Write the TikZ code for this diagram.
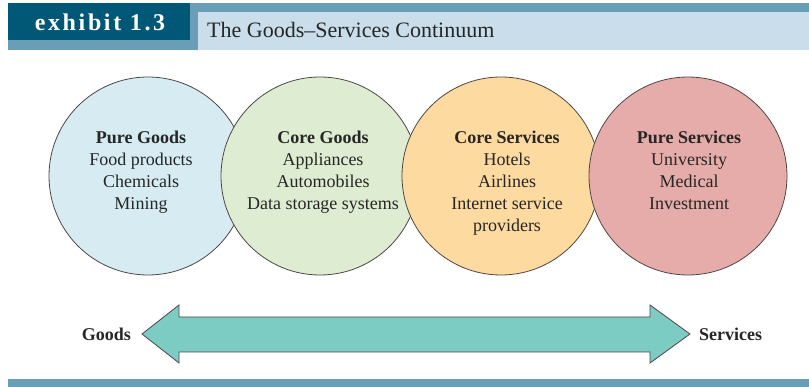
\documentclass[tikz,border=0pt]{standalone}
\usepackage{fontspec}
\setmainfont{Liberation Serif}
\newfontfamily\tagfont[LetterSpace=11]{Liberation Serif}
\usetikzlibrary{positioning}

\definecolor{bandblue}{RGB}{106,157,182}
\definecolor{tagblue}{RGB}{0,88,118}
\definecolor{titleblue}{RGB}{201,222,234}
\definecolor{goodsblue}{RGB}{214,236,242}
\definecolor{coregreen}{RGB}{222,236,210}
\definecolor{coreorange}{RGB}{253,218,160}
\definecolor{servicepink}{RGB}{230,172,170}
\definecolor{arrowteal}{RGB}{124,204,196}
\definecolor{rim}{RGB}{80,70,70}

\begin{document}
\begin{tikzpicture}[x=1pt,y=-1pt,
  disc/.style={circle,draw=rim,line width=0.8pt,minimum size=198pt,inner sep=0pt},
  list/.style={align=center,inner sep=0pt,anchor=north,text=black!85,font=\fontsize{18}{22}\selectfont},
  endlabel/.style={inner sep=0pt,text=black!85,font=\bfseries\fontsize{18}{22}\selectfont}]
  \useasboundingbox (0,0) rectangle (809,387);

  % heading bar
  \fill[bandblue] (8,3) rectangle (809,50);
  \fill[tagblue] (8,3) rectangle (190,40);
  \fill[titleblue] (198,12) rectangle (809,50);
  \node[text=white,font=\tagfont\bfseries\fontsize{24}{28}\selectfont] (tag) at (100,22) {exhibit 1.3};
  \node[anchor=base west,inner sep=0pt,text=black!85,font=\fontsize{22}{26}\selectfont] (title) at (207,38) {The Goods--Services Continuum};

  % the four circles, each one over the one before
  \node[disc,fill=goodsblue] (pure goods) at (148,176) {};
  \node[disc,fill=coregreen] (core goods) at (320,176) {};
  \node[disc,fill=coreorange] (core services) at (501,176) {};
  \node[disc,fill=servicepink] (pure services) at (688,176) {};

  \node[list] (pure goods list) at (141,131) {\textbf{Pure Goods}\\Food products\\Chemicals\\Mining};
  \node[list] (core goods list) at (323,131) {\textbf{Core Goods}\\Appliances\\Automobiles\\Data storage systems};
  \node[list] (core services list) at (507,131) {\textbf{Core Services}\\Hotels\\Airlines\\Internet service\\providers};
  \node[list] (pure services list) at (689,131) {\textbf{Pure Services}\\University\\Medical\\Investment};

  % continuum arrow
  \node[endlabel,anchor=east] (goods) at (131,334) {Goods};
  \node[endlabel,anchor=west] (services) at (699,334) {Services};
  \draw[fill=arrowteal,draw=rim,line width=0.8pt] (142,334) -- (179,305) -- (179,317) -- (650,317)
    -- (650,305) -- (690,334) -- (650,363) -- (650,352) -- (179,352) -- (179,363) -- cycle;

  % closing bar
  \fill[bandblue] (8,379) rectangle (809,387);
\end{tikzpicture}
\end{document}
